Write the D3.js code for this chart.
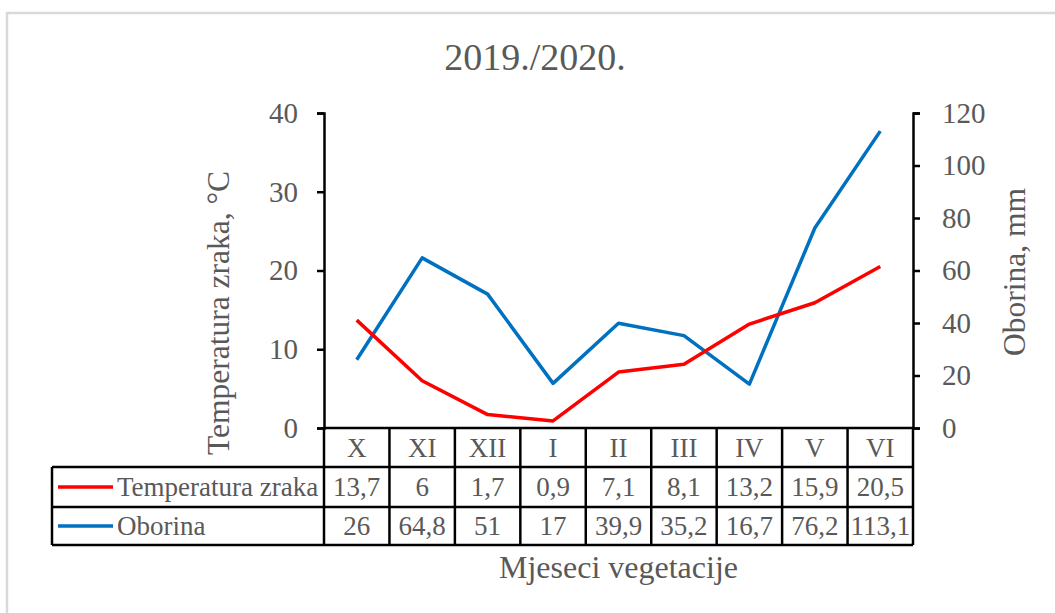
<!DOCTYPE html>
<html>
<head>
<meta charset="utf-8">
<script src="https://cdn.jsdelivr.net/npm/d3@7"></script>
<style>
  body { margin: 0; background: #fff; }
  svg { display: block; font-family: "Times New Roman", "Liberation Serif", serif; }
</style>
</head>
<body>
<div id="chart"></div>
<script>
const months = ["X", "XI", "XII", "I", "II", "III", "IV", "V", "VI"];
const temperature = [13.7, 6, 1.7, 0.9, 7.1, 8.1, 13.2, 15.9, 20.5];
const precipitation = [26, 64.8, 51, 17, 39.9, 35.2, 16.7, 76.2, 113.1];
const tempTicks = [0, 10, 20, 30, 40];
const rainTicks = [0, 20, 40, 60, 80, 100, 120];
const seriesNames = ["Temperatura zraka", "Oborina"];

const width = 1055;
const height = 613;
const textColor = "#595959";
const colors = ["#ff0000", "#0070c0"];

const plot = { left: 324, right: 913, top: 113, bottom: 428 };
const rowEdges = [428, 467, 507, 545];
const tableLeft = 52;

const svg = d3
  .select("#chart")
  .append("svg")
  .attr("width", width)
  .attr("height", height);

// outer chart frame
svg
  .append("rect")
  .attr("x", 7)
  .attr("y", 13)
  .attr("width", width + 20)
  .attr("height", height + 20)
  .attr("fill", "#fff")
  .attr("stroke", "#d9d9d9")
  .attr("stroke-width", 2.5);

svg
  .append("text")
  .attr("x", 535)
  .attr("y", 70)
  .attr("text-anchor", "middle")
  .attr("fill", textColor)
  .attr("font-size", 38)
  .text("2019./2020.");

const x = d3.scaleBand().domain(months).range([plot.left, plot.right]);
const yTemp = d3.scaleLinear().domain([0, 40]).range([plot.bottom, plot.top]);
const yRain = d3.scaleLinear().domain([0, 120]).range([plot.bottom, plot.top]);

const styleAxis = (g) => {
  g.select(".domain").attr("stroke", "#000").attr("stroke-width", 2.5);
  g.selectAll(".tick line").attr("stroke", "#000").attr("stroke-width", 2.5);
  g.selectAll(".tick text")
    .attr("fill", textColor)
    .attr("font-size", 29)
    .attr("font-family", "'Times New Roman', 'Liberation Serif', serif");
};

svg
  .append("g")
  .attr("transform", `translate(${plot.left},0)`)
  .call(
    d3.axisLeft(yTemp).tickValues(tempTicks).tickSize(7).tickSizeOuter(7).tickPadding(19)
  )
  .call(styleAxis);

svg
  .append("g")
  .attr("transform", `translate(${plot.right},0)`)
  .call(
    d3.axisRight(yRain).tickValues(rainTicks).tickSize(7).tickSizeOuter(7).tickPadding(22)
  )
  .call(styleAxis);

// axis titles
svg
  .append("text")
  .attr("transform", "translate(229,313) rotate(-90)")
  .attr("text-anchor", "middle")
  .attr("fill", textColor)
  .attr("font-size", 31.5)
  .text("Temperatura zraka, °C");

svg
  .append("text")
  .attr("transform", "translate(1025,272) rotate(-90)")
  .attr("text-anchor", "middle")
  .attr("fill", textColor)
  .attr("font-size", 31.5)
  .text("Oborina, mm");

svg
  .append("text")
  .attr("x", (plot.left + plot.right) / 2)
  .attr("y", 578)
  .attr("text-anchor", "middle")
  .attr("fill", textColor)
  .attr("font-size", 32)
  .text("Mjeseci vegetacije");

// data table
const table = svg.append("g").attr("stroke", "#000").attr("stroke-width", 2.5);
table
  .selectAll("line.h")
  .data(rowEdges)
  .join("line")
  .attr("class", "h")
  .attr("x1", (d, i) => (i === 0 ? plot.left : tableLeft))
  .attr("x2", plot.right)
  .attr("y1", (d) => d)
  .attr("y2", (d) => d);
table
  .selectAll("line.v")
  .data(months.map((m) => x(m)).concat([plot.right]))
  .join("line")
  .attr("class", "v")
  .attr("x1", (d) => d)
  .attr("x2", (d) => d)
  .attr("y1", rowEdges[0])
  .attr("y2", rowEdges[3]);
table
  .append("line")
  .attr("x1", tableLeft)
  .attr("x2", tableLeft)
  .attr("y1", rowEdges[1])
  .attr("y2", rowEdges[3]);

const rowMid = (i) => (rowEdges[i] + rowEdges[i + 1]) / 2;
const fmt = (v) => String(v).replace(".", ",");

svg
  .append("g")
  .selectAll("text")
  .data(months)
  .join("text")
  .attr("x", (d) => x(d) + x.bandwidth() / 2)
  .attr("y", rowMid(0))
  .attr("dy", "0.35em")
  .attr("text-anchor", "middle")
  .attr("fill", textColor)
  .attr("font-size", 27)
  .text((d) => d);

[temperature, precipitation].forEach((values, s) => {
  const row = svg.append("g");
  row
    .selectAll("text")
    .data(values)
    .join("text")
    .attr("x", (d, i) => x(months[i]) + x.bandwidth() / 2)
    .attr("y", rowMid(s + 1))
    .attr("dy", "0.35em")
    .attr("text-anchor", "middle")
    .attr("fill", textColor)
    .attr("font-size", 27)
    .text(fmt);
  row
    .append("line")
    .attr("x1", 58)
    .attr("x2", 113)
    .attr("y1", rowMid(s + 1))
    .attr("y2", rowMid(s + 1))
    .attr("stroke", colors[s])
    .attr("stroke-width", 3.5);
  row
    .append("text")
    .attr("x", 117)
    .attr("y", rowMid(s + 1))
    .attr("dy", "0.35em")
    .attr("fill", textColor)
    .attr("font-size", 27)
    .text(seriesNames[s]);
});

// series lines
const cx = (d, i) => x(months[i]) + x.bandwidth() / 2;
svg
  .append("path")
  .datum(precipitation)
  .attr("fill", "none")
  .attr("stroke", colors[1])
  .attr("stroke-width", 3.5)
  .attr("stroke-linejoin", "round")
  .attr("d", d3.line().x(cx).y((d) => yRain(d)));
svg
  .append("path")
  .datum(temperature)
  .attr("fill", "none")
  .attr("stroke", colors[0])
  .attr("stroke-width", 3.5)
  .attr("stroke-linejoin", "round")
  .attr("d", d3.line().x(cx).y((d) => yTemp(d)));
</script>
</body>
</html>
